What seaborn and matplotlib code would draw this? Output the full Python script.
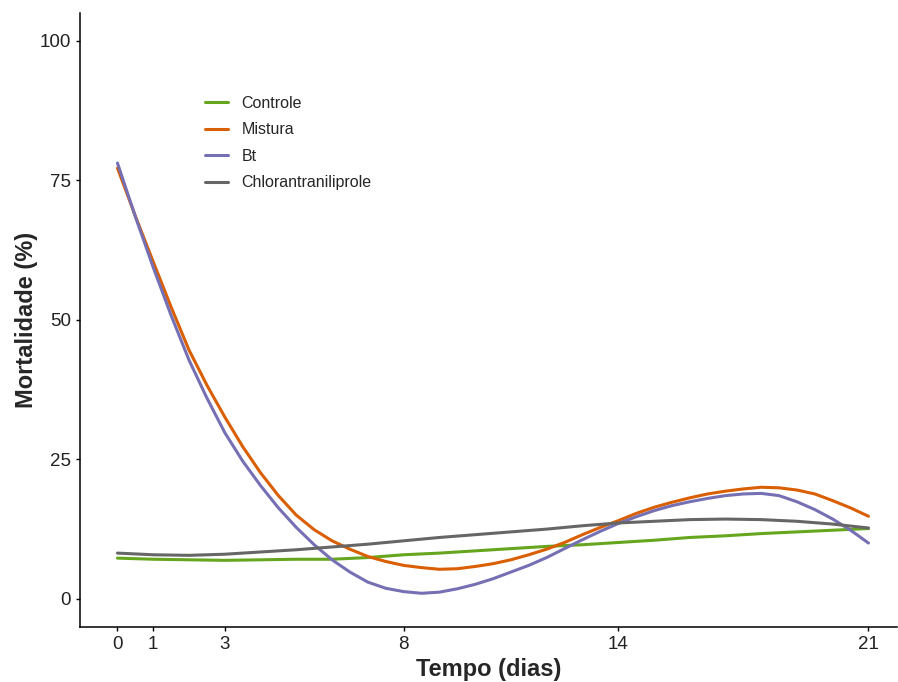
import pandas as pd
import matplotlib.pyplot as plt
import seaborn as sns

# leitura das curvas: meio dia para Mistura e Bt, dia a dia para as outras
dias = list(range(0, 22))
dias_meio = [d / 2 for d in range(0, 43)]

controle = [7.3, 7.1, 7.0, 6.9, 7.0, 7.1, 7.1, 7.4, 7.9, 8.2, 8.6,
            9.0, 9.4, 9.7, 10.1, 10.5, 11.0, 11.3, 11.7, 12.0, 12.3, 12.6]
mistura = [77.2, 68.6, 60.4, 52.3, 44.6, 38.3, 32.6, 27.3, 22.6, 18.5, 15.0,
           12.4, 10.4, 8.9, 7.6, 6.7, 6.0, 5.6, 5.3, 5.4, 5.8, 6.3,
           7.0, 7.9, 8.9, 10.1, 11.5, 12.8, 14.0, 15.3, 16.4, 17.3,
           18.1, 18.8, 19.3, 19.7, 20.0, 19.9, 19.5, 18.8, 17.6, 16.3, 14.8]
bt = [78.1, 68.5, 59.4, 50.8, 42.8, 36.0, 29.8, 24.7, 20.3, 16.3, 12.8,
      9.7, 7.0, 4.8, 3.0, 1.9, 1.3, 1.0, 1.2, 1.8, 2.6, 3.6,
      4.8, 6.0, 7.4, 9.0, 10.6, 12.1, 13.5, 14.7, 15.8, 16.7,
      17.4, 18.0, 18.5, 18.8, 18.9, 18.5, 17.4, 16.0, 14.3, 12.3, 10.0]
chloran = [8.2, 7.9, 7.8, 8.0, 8.4, 8.8, 9.3, 9.8, 10.4, 11.0, 11.5,
           12.0, 12.5, 13.1, 13.6, 13.9, 14.2, 14.3, 14.2, 13.9, 13.4, 12.7]

tratamentos = ["Controle", "Mistura", "Bt", "Chlorantraniliprole"]
cores = ["#66A61E", "#D95F02", "#7570B3", "#666666"]
x_ticks = [0, 1, 3, 8, 14, 21]
y_ticks = [0, 25, 50, 75, 100]

series = [(dias, controle), (dias_meio, mistura), (dias_meio, bt), (dias, chloran)]
df = pd.concat([
    pd.DataFrame({"Tempo": x, "Mortalidade": y, "Tratamento": nome})
    for nome, (x, y) in zip(tratamentos, series)
], ignore_index=True)

sns.set_theme(style="ticks")
plt.rcParams["font.family"] = ["Liberation Sans", "DejaVu Sans"]

fig = plt.figure(figsize=(8.98, 6.82), dpi=100)
ax = fig.add_axes([0.089, 0.081, 0.91, 0.90])

sns.lineplot(data=df, x="Tempo", y="Mortalidade", hue="Tratamento",
             hue_order=tratamentos, palette=cores, linewidth=2.2, ax=ax)

ax.set_xlim(-1.05, 21.8)
ax.set_ylim(-5, 105)
ax.set_xticks(x_ticks)
ax.set_yticks(y_ticks)
ax.tick_params(axis="both", labelsize=13.5, colors="black", length=3, width=1)
for t in ax.get_xticklabels() + ax.get_yticklabels():
    t.set_color("#222222")

sns.despine(ax=ax)
for s in ["left", "bottom"]:
    ax.spines[s].set_linewidth(1.1)
    ax.spines[s].set_color("black")

ax.set_xlabel("Tempo (dias)", fontsize=17, fontweight="bold", labelpad=4)
ax.set_ylabel("Mortalidade (%)", fontsize=17, fontweight="bold", labelpad=1)

ax.legend(title=None, frameon=False, loc="center left",
          bbox_to_anchor=(0.153, 0.788), borderpad=0, borderaxespad=0,
          fontsize=11.5, handlelength=1.45, handletextpad=0.85,
          labelspacing=0.72)

fig.savefig("out.png", dpi=100)
